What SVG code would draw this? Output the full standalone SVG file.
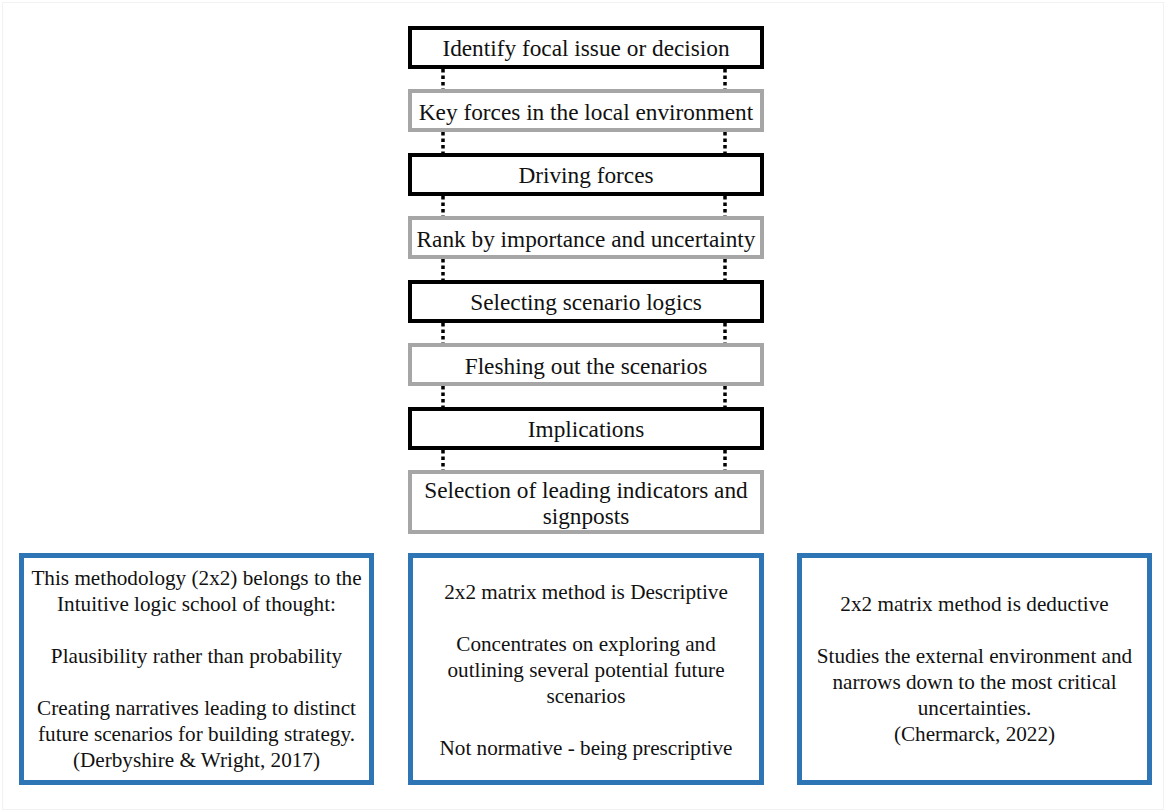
<svg xmlns="http://www.w3.org/2000/svg" width="1166" height="812" viewBox="0 0 1166 812">
  <style>
    .step { fill: #ffffff; stroke-width: 4; }
    .dark { stroke: #000000; }
    .grey { stroke: #a6a6a6; }
    .note { fill: #ffffff; stroke: #2e75b6; stroke-width: 5; }
    .lbl { font-size: 23.3px; fill: #111111; text-anchor: middle; }
    .txt { font-size: 21.2px; fill: #111111; text-anchor: middle; }
    .dots { stroke: #000000; stroke-width: 3.5; stroke-dasharray: 3.5 3; fill: none; }
  </style>

  <rect x="0" y="0" width="1166" height="812" fill="#ffffff"/>
  <rect x="2.5" y="2.5" width="1161" height="807" fill="none" stroke="#f2f2f2" stroke-width="1"/>

  <!-- dotted links between consecutive steps -->
  <g id="connectors">
    <path class="dots" d="M443 69V89M725 69V89"/>
    <path class="dots" d="M443 132V153M725 132V153"/>
    <path class="dots" d="M443 196V216M725 196V216"/>
    <path class="dots" d="M443 259V280M725 259V280"/>
    <path class="dots" d="M443 323V343M725 323V343"/>
    <path class="dots" d="M443 386V407M725 386V407"/>
    <path class="dots" d="M443 450V470M725 450V470"/>
  </g>

  <g font-family="'Liberation Serif', 'Times New Roman', 'DejaVu Serif', serif">
  <g id="step1">
    <rect class="step dark" x="410" y="28" width="352" height="39"/>
    <text class="lbl" x="586" y="56">Identify focal issue or decision</text>
  </g>
  <g id="step2">
    <rect class="step grey" x="410" y="91" width="352" height="39"/>
    <text class="lbl" x="586" y="119.5">Key forces in the local environment</text>
  </g>
  <g id="step3">
    <rect class="step dark" x="410" y="155" width="352" height="39"/>
    <text class="lbl" x="586" y="183">Driving forces</text>
  </g>
  <g id="step4">
    <rect class="step grey" x="410" y="218" width="352" height="39"/>
    <text class="lbl" x="586" y="246.5">Rank by importance and uncertainty</text>
  </g>
  <g id="step5">
    <rect class="step dark" x="410" y="282" width="352" height="39"/>
    <text class="lbl" x="586" y="310">Selecting scenario logics</text>
  </g>
  <g id="step6">
    <rect class="step grey" x="410" y="345" width="352" height="39"/>
    <text class="lbl" x="586" y="373.5">Fleshing out the scenarios</text>
  </g>
  <g id="step7">
    <rect class="step dark" x="410" y="409" width="352" height="39"/>
    <text class="lbl" x="586" y="437">Implications</text>
  </g>
  <g id="step8">
    <rect class="step grey" x="410" y="472" width="352" height="60"/>
    <text class="lbl" x="586" y="497.5">Selection of leading indicators and</text>
    <text class="lbl" x="586" y="523.5">signposts</text>
  </g>

  <g id="note-left">
    <rect class="note" x="21.5" y="555.5" width="350" height="227"/>
    <text class="txt" x="196.5" y="585">This methodology (2x2) belongs to the</text>
    <text class="txt" x="196.5" y="611">Intuitive logic school of thought:</text>
    <text class="txt" x="196.5" y="663">Plausibility rather than probability</text>
    <text class="txt" x="196.5" y="715">Creating narratives leading to distinct</text>
    <text class="txt" x="196.5" y="741">future scenarios for building strategy.</text>
    <text class="txt" x="196.5" y="767">(Derbyshire &amp; Wright, 2017)</text>
  </g>

  <g id="note-middle">
    <rect class="note" x="410.5" y="555.5" width="351" height="227"/>
    <text class="txt" x="586" y="599">2x2 matrix method is Descriptive</text>
    <text class="txt" x="586" y="651">Concentrates on exploring and</text>
    <text class="txt" x="586" y="677">outlining several potential future</text>
    <text class="txt" x="586" y="703">scenarios</text>
    <text class="txt" x="586" y="755">Not normative - being prescriptive</text>
  </g>

  <g id="note-right">
    <rect class="note" x="799.5" y="555.5" width="350" height="227"/>
    <text class="txt" x="974.5" y="611">2x2 matrix method is deductive</text>
    <text class="txt" x="974.5" y="663">Studies the external environment and</text>
    <text class="txt" x="974.5" y="689">narrows down to the most critical</text>
    <text class="txt" x="974.5" y="715">uncertainties.</text>
    <text class="txt" x="974.5" y="741">(Chermarck, 2022)</text>
  </g>
  </g>
</svg>
